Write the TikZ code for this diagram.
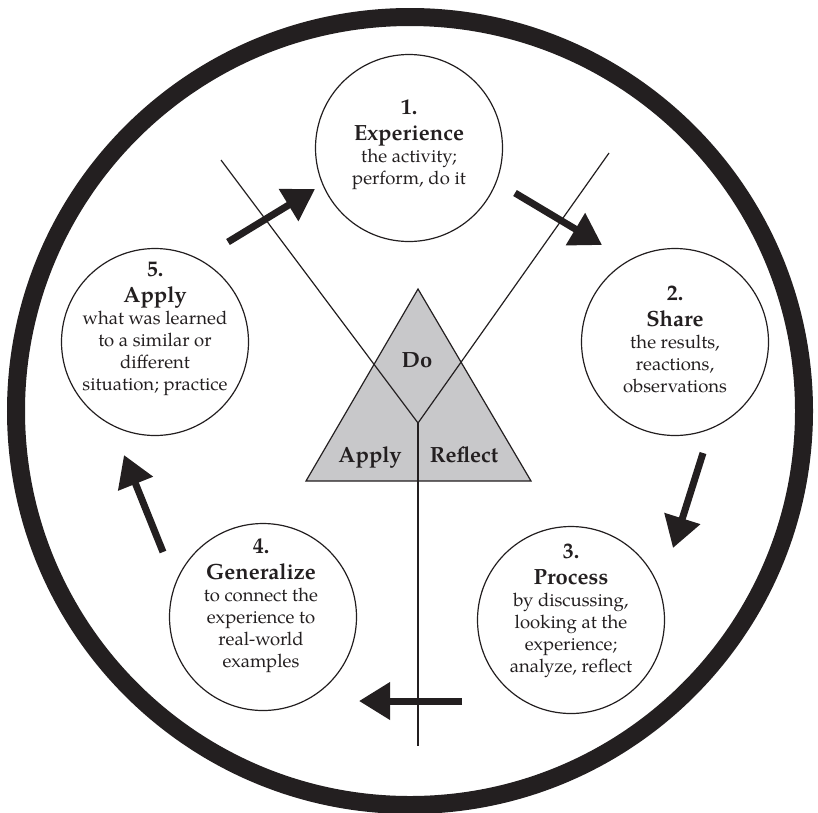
\documentclass[tikz,border=0pt]{standalone}
\usepackage{fontspec}
\setmainfont{TeX Gyre Pagella}
\usetikzlibrary{arrows.meta}

\definecolor{ink}{RGB}{35,31,32}
\definecolor{shade}{RGB}{200,200,202}
\newcommand{\hd}{\fontsize{22}{27}\selectfont\bfseries}

\tikzset{
  stage/.style={circle,draw=ink,line width=1.2pt,minimum size=187pt,inner sep=0pt},
  stagetext/.style={align=center,text=ink,inner sep=0pt,
    font=\fontsize{18.5}{22}\selectfont},
  corner/.style={anchor=base,text=ink,font=\hd},
  guide/.style={draw=ink,line width=1.2pt},
  flow/.style={draw=ink,line width=7pt,-{Triangle[length=31pt,width=36pt]}}
}

\begin{document}
\begin{tikzpicture}[x=1pt,y=-1pt]
  \useasboundingbox (0,0) rectangle (818,812);

  % the big ring
  \draw[ink,line width=18pt] (410,411) circle (394pt);

  % triangle with the Y lines
  \draw[guide,fill=shade] (418,289) -- (306,481) -- (531,481) -- cycle;
  \coordinate (yleft) at (221,160);
  \coordinate (yright) at (609,153);
  \coordinate (yfork) at (418,423);
  \coordinate (yfoot) at (418,746);
  \draw[guide] (yleft) -- (yfork) -- (yright);
  \draw[guide] (yfork) -- (yfoot);

  \node[corner] (do) at (417,367) {Do};
  \node[corner] (apply) at (370,462) {Apply};
  \node[corner] (reflect) at (464,462) {Reflect};

  % the five stages
  \node[stage] (exp) at (409,148) {};
  \node[stage] (share) at (675,342) {};
  \node[stage] (proc) at (571,620) {};
  \node[stage] (gen) at (263,617) {};
  \node[stage] (app) at (155,342) {};

  \node[stagetext] (exp text) at (409,145)
    {{\hd 1.}\\[4pt]{\hd Experience}\\the activity;\\perform, do it};
  \node[stagetext] (share text) at (675,339)
    {{\hd 2.}\\[4pt]{\hd Share}\\the results,\\reactions,\\observations};
  \node[stagetext] (proc text) at (571,611)
    {{\hd 3.}\\[4pt]{\hd Process}\\by discussing,\\looking at the\\experience;\\analyze, reflect};
  \node[stagetext] (gen text) at (261,606)
    {{\hd 4.}\\[4pt]{\hd Generalize}\\to connect the\\experience to\\real-world\\examples};
  \node[stagetext] (app text) at (155,329)
    {{\hd 5.}\\[4pt]{\hd Apply}\\what was learned\\to a similar or\\different\\situation; practice};

  % arrows round the cycle
  \coordinate (t1) at (515,193);  \coordinate (h1) at (602,245);
  \coordinate (t2) at (703,453);  \coordinate (h2) at (673,548);
  \coordinate (t3) at (462,701);  \coordinate (h3) at (359,701);
  \coordinate (t4) at (163,552);  \coordinate (h4) at (124,455);
  \coordinate (t5) at (228,242);  \coordinate (h5) at (315,189);
  \draw[flow] (t1) -- (h1);
  \draw[flow] (t2) -- (h2);
  \draw[flow] (t3) -- (h3);
  \draw[flow] (t4) -- (h4);
  \draw[flow] (t5) -- (h5);
\end{tikzpicture}
\end{document}
